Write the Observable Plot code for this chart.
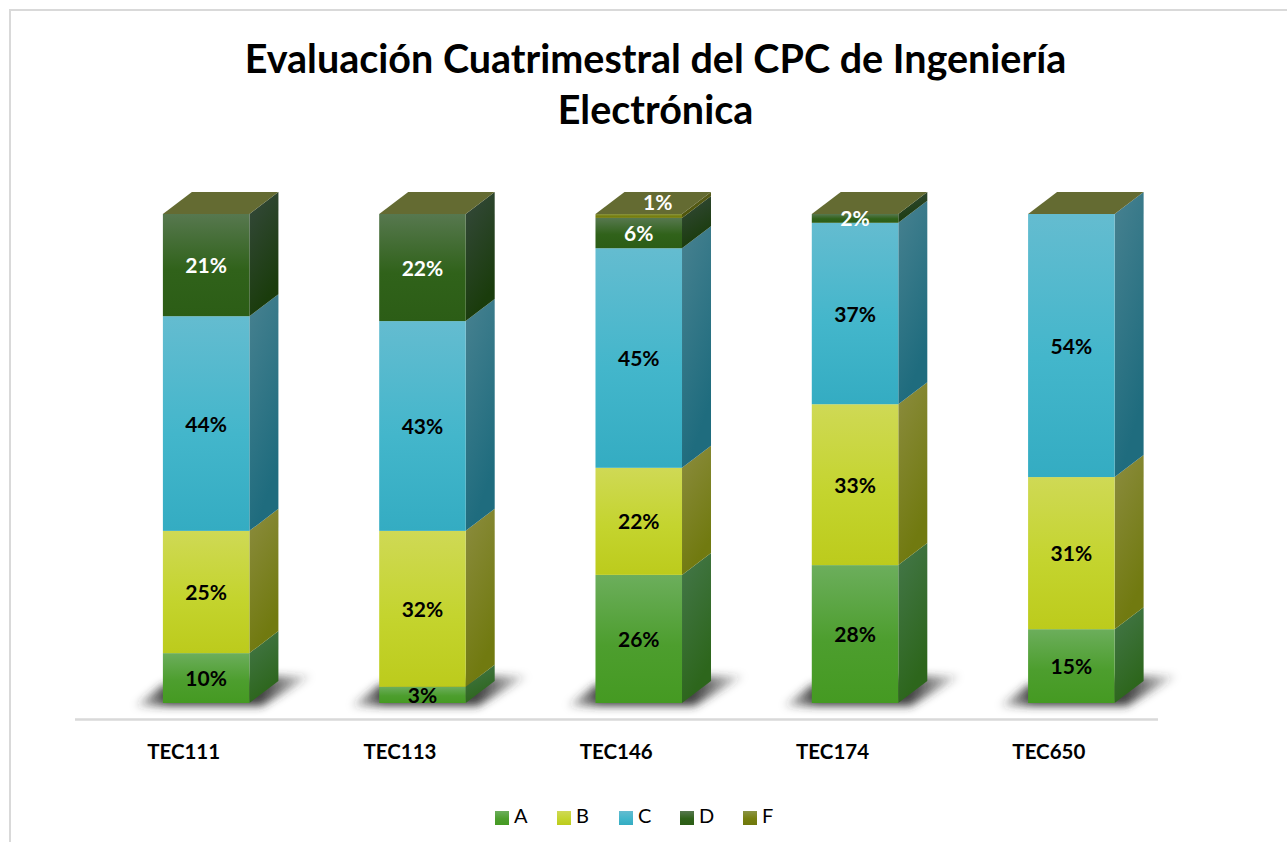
<!DOCTYPE html>
<html lang="es">
<head>
<meta charset="utf-8">
<script src="https://cdn.jsdelivr.net/npm/d3@7"></script>
<script src="https://cdn.jsdelivr.net/npm/@observablehq/plot@0.6"></script>
<style>
  html, body { margin: 0; padding: 0; background: #fff; }
  #page { position: relative; width: 1287px; height: 842px; overflow: hidden; font-family: Lato, sans-serif; color: #000; }
  #frame { position: absolute; left: 9px; top: 9px; width: 1400px; height: 1000px; border: 2px solid #d9d9d9; pointer-events: none; }
  #title { position: absolute; left: 0; top: 32px; width: 1311px; text-align: center; font-weight: 700; font-size: 39.5px; line-height: 51px; }
  #chart { position: absolute; left: 0; top: 140px; }
  #legend { position: absolute; top: 804px; left: 0; width: 1287px; height: 24px; font-size: 20px; line-height: 22px; }
  #legend span { position: absolute; top: 0; white-space: nowrap; }
  #legend i { display: inline-block; width: 14px; height: 14px; vertical-align: -2px; margin-right: 5px; }
</style>
</head>
<body>
<div id="page">
  <div id="frame"></div>
  <div id="title">Evaluación Cuatrimestral del CPC de Ingeniería<br>Electrónica</div>
  <div id="chart"></div>
  <div id="legend"></div>
</div>
<script>
const categories = ["TEC111", "TEC113", "TEC146", "TEC174", "TEC650"];
const grades = ["A", "B", "C", "D", "F"];
const gradeA = [10.2, 3.3, 26.2, 28.2, 15.1];
const gradeB = [25.0, 31.9, 21.9, 32.9, 31.1];
const gradeC = [43.9, 42.9, 44.9, 37.1, 53.8];
const gradeD = [20.9, 21.9, 6.2, 1.8, 0];
const gradeF = [0, 0, 0.8, 0, 0];
const seriesValues = {A: gradeA, B: gradeB, C: gradeC, D: gradeD, F: gradeF};

// Colours: front gradient stops, side gradient stops
const frontStops = {
  A: ["#6cae5c", "#4d9e2e", "#459a22"],
  B: ["#cfd955", "#c4d42e", "#bccb1c"],
  C: ["#64bcd0", "#43b6cb", "#34acc2"],
  D: ["#57784f", "#30621a", "#2c5d16"],
  F: ["#8a9444", "#77800f", "#6f780c"]
};
const sideStops = {
  A: ["#437648", "#2d661c"],
  B: ["#8a8b3c", "#717a10"],
  C: ["#45808f", "#1f6c7e"],
  D: ["#34483a", "#1a3c0c"],
  F: ["#5a5f22", "#4e5408"]
};
const topColor = "#646b32";

const rows = [];
categories.forEach((cat, i) => {
  let acc = 0;
  grades.forEach(g => {
    const v = seriesValues[g][i];
    if (v > 0) rows.push({cat, grade: g, value: v, y1: acc, y2: acc + v, mid: acc + v / 2});
    acc += v;
  });
});

const NS = "http://www.w3.org/2000/svg";
const el = (name, attrs, parent) => {
  const e = document.createElementNS(NS, name);
  for (const k in attrs) e.setAttribute(k, attrs[k]);
  if (parent) parent.appendChild(e);
  return e;
};

function defsMark() {
  const defs = el("defs", {});
  for (const g of grades) {
    const f = el("linearGradient", {id: "front" + g, x1: 0, y1: 0, x2: 0, y2: 1}, defs);
    frontStops[g].forEach((c, i) => el("stop", {offset: [0, 0.55, 1][i], "stop-color": c}, f));
    const s = el("linearGradient", {id: "side" + g, x1: 0, y1: 0, x2: 0.35, y2: 1}, defs);
    sideStops[g].forEach((c, i) => el("stop", {offset: [0.05, 0.95][i], "stop-color": c}, s));
  }
  const fade = el("linearGradient", {id: "shadowFade", x1: 0, y1: 0, x2: 1, y2: 0}, defs);
  [[0, 0.15], [0.18, 0.9], [0.72, 0.9], [1, 0.1]].forEach(([o, a]) =>
    el("stop", {offset: o, "stop-color": "#2e2e2e", "stop-opacity": a}, fade));
  const blur = el("filter", {id: "soft", x: "-30%", y: "-60%", width: "160%", height: "220%"}, defs);
  el("feGaussianBlur", {stdDeviation: 4.5}, blur);
  return defs;
}

const barShift = 23, depthX = 29, depthY = 22;

function shadowMark(index, {x, y}) {
  const g = el("g", {});
  const base = y(0), w = x.bandwidth();
  for (const cat of categories) {
    const l = x(cat) + barShift, r = l + w;
    el("polygon", {
      points: [[l - 28, base + 3], [l, base - 18], [r + 30, base - 27], [r + 62, base - 27], [r + 12, base + 3]].join(" "),
      fill: "url(#shadowFade)", filter: "url(#soft)"
    }, g);
  }
  return g;
}

function facesMark(index, {x, y}) {
  const g = el("g", {});
  const w = x.bandwidth();
  for (const d of rows) {
    const r = x(d.cat) + barShift + w;
    const a = y(d.y1), b = y(d.y2);
    el("polygon", {
      points: [[r, a], [r + depthX, a - depthY], [r + depthX, b - depthY], [r, b]].join(" "),
      fill: `url(#side${d.grade})`
    }, g);
  }
  for (const cat of categories) {
    const l = x(cat) + barShift, t = y(100);
    el("polygon", {
      points: [[l, t], [l + depthX, t - depthY], [l + w + depthX, t - depthY], [l + w, t]].join(" "),
      fill: topColor
    }, g);
  }
  return g;
}

const pct = d => `${Math.round(d.value)}%`;
const isDark = d => d.grade === "D" || d.grade === "F";

const plot = Plot.plot({
  width: 1287,
  height: 650,
  marginLeft: 75,
  marginRight: 129,
  marginTop: 74,
  marginBottom: 87,
  style: {fontFamily: "Lato, sans-serif", background: "transparent", overflow: "visible"},
  x: {type: "band", domain: categories, range: [75, 1156.5], paddingInner: 0.6, paddingOuter: 0.3, round: false, label: null},
  y: {domain: [0, 100], axis: null, label: null},
  marks: [
    defsMark,
    shadowMark,
    Plot.ruleY([0], {dy: 16, stroke: "#d9d9d9", strokeWidth: 2.5}),
    facesMark,
    ...grades.map(g => Plot.barY(rows.filter(d => d.grade === g), {
      x: "cat", y1: "y1", y2: "y2", dx: barShift, fill: `url(#front${g})`
    })),
    Plot.text(rows.filter(d => d.grade !== "F"), {
      x: "cat", y: "mid", text: pct, dx: barShift - 0.5, dy: 0.8,
      fill: d => isDark(d) ? "#ffffff" : "#000000",
      fontSize: 21, fontWeight: 700
    }),
    Plot.text(rows.filter(d => d.grade === "F"), {
      x: "cat", y: "mid", text: pct, dx: barShift + 18.5, dy: -13,
      fill: "#ffffff", fontSize: 21, fontWeight: 700
    }),
    Plot.axisX({
      domain: categories, tickSize: 0, tickPadding: 41, label: null,
      fontSize: 20.5, fontWeight: 700, fill: "#000"
    })
  ]
});
document.getElementById("chart").appendChild(plot);

const legendX = [495, 557, 619, 680, 743];
const legend = document.getElementById("legend");
grades.forEach((g, i) => {
  const s = document.createElement("span");
  s.style.left = legendX[i] + "px";
  const sw = document.createElement("i");
  sw.style.background = `linear-gradient(${frontStops[g][0]}, ${frontStops[g][1]} 55%, ${frontStops[g][2]})`;
  s.appendChild(sw);
  s.appendChild(document.createTextNode(g));
  legend.appendChild(s);
});
</script>
</body>
</html>
